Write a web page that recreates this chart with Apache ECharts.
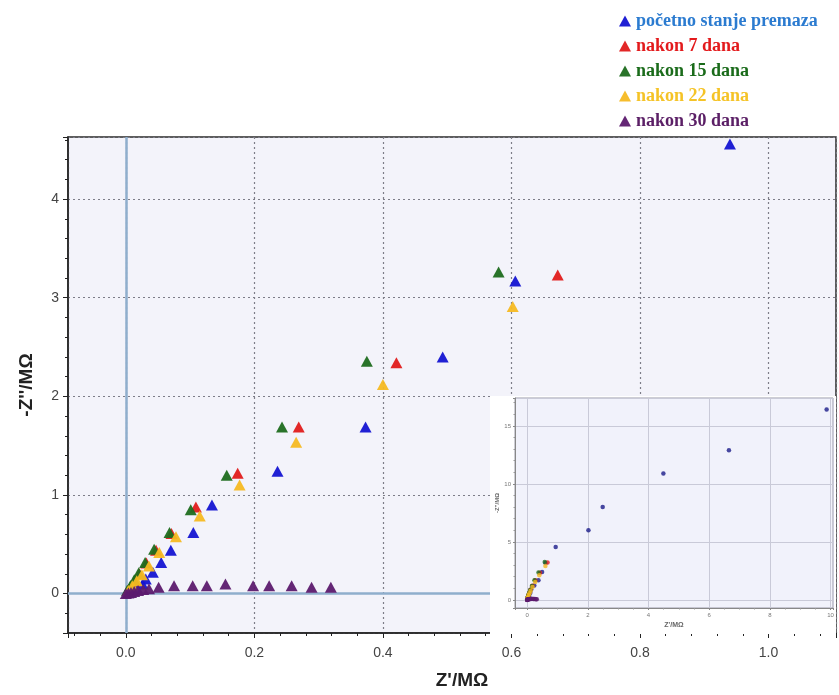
<!DOCTYPE html>
<html>
<head>
<meta charset="utf-8">
<script src="https://cdn.jsdelivr.net/npm/echarts@6/dist/echarts.min.js"></script>
<style>html,body{margin:0;padding:0;background:#fff;}#c{width:839px;height:695px;}</style>
</head>
<body>
<div id="c"></div>
<script>
// ---- data (Z' in MΩ, -Z'' in MΩ) ----
const seriesNames = ['početno stanje premaza', 'nakon 7 dana', 'nakon 15 dana', 'nakon 22 dana', 'nakon 30 dana'];

const blueX = [0.004, 0.010, 0.017, 0.026, 0.031, 0.042, 0.055, 0.070, 0.105, 0.134, 0.236, 0.373, 0.493, 0.606, 0.940, 2.02, 2.49, 4.49, 6.65, 9.87];
const blueY = [0.010, 0.030, 0.060, 0.097, 0.147, 0.215, 0.316, 0.440, 0.618, 0.897, 1.24, 1.69, 2.40, 3.17, 4.56, 6.0, 8.0, 10.9, 12.9, 16.4];

const redX = [0.003, 0.008, 0.014, 0.021, 0.032, 0.047, 0.071, 0.109, 0.174, 0.269, 0.421, 0.672];
const redY = [0.03, 0.08, 0.13, 0.20, 0.31, 0.44, 0.61, 0.877, 1.22, 1.69, 2.34, 3.23];

const greenX = [0.002, 0.007, 0.013, 0.020, 0.030, 0.044, 0.068, 0.101, 0.157, 0.243, 0.375, 0.580];
const greenY = [0.03, 0.08, 0.14, 0.21, 0.316, 0.45, 0.62, 0.85, 1.20, 1.69, 2.355, 3.26];

const yellowX = [0.004, 0.010, 0.017, 0.025, 0.036, 0.052, 0.078, 0.115, 0.177, 0.265, 0.400, 0.602];
const yellowY = [0.03, 0.08, 0.13, 0.19, 0.28, 0.416, 0.575, 0.786, 1.10, 1.535, 2.12, 2.91];

const purpleX = [0.000, 0.004, 0.008, 0.013, 0.019, 0.027, 0.036, 0.051, 0.075, 0.104, 0.126, 0.155, 0.198, 0.223, 0.258, 0.289, 0.319];
const purpleY = [0.000, 0.005, 0.010, 0.020, 0.030, 0.040, 0.050, 0.064, 0.080, 0.080, 0.080, 0.097, 0.080, 0.080, 0.080, 0.064, 0.064];

const xTickLabels = ['0.0', '0.2', '0.4', '0.6', '0.8', '1.0'];
const insetXTickLabels = ['0', '2', '4', '6', '8', '10'];
const insetYTickLabels = ['0', '5', '10', '15'];

// ---- styling ----
const markerColors = ['#1414d2', '#e01b1b', '#1d6b1d', '#f5b922', '#5c1a6e'];
const legendTextColors = ['#2b7bd0', '#e31a1c', '#1a6b1a', '#f5c326', '#5b1f66'];

const zip = (xs, ys) => xs.map((x, i) => [x, ys[i]]);
const allData = [zip(blueX, blueY), zip(redX, redY), zip(greenX, greenY), zip(yellowX, yellowY), zip(purpleX, purpleY)];

const chart = echarts.init(document.getElementById('c'), null, {renderer: 'canvas'});

const mainSeries = allData.map((d, i) => ({
  name: seriesNames[i],
  type: 'scatter',
  xAxisIndex: 0, yAxisIndex: 0,
  symbol: 'triangle',
  symbolSize: [12, 11],
  itemStyle: {color: markerColors[i], opacity: 0.95},
  data: d,
  z: 2,
  clip: true
}));
// zero lines
mainSeries[0].markLine = {
  silent: true,
  z: 1,
  symbol: ['none', 'none'],
  label: {show: false},
  lineStyle: {color: '#8faecc', type: 'solid', width: 2.5},
  data: [{xAxis: 0}, {yAxis: 0}]
};

const insetSeries = allData.map((d, i) => ({
  name: seriesNames[i] + ' ',
  type: 'scatter',
  xAxisIndex: 1, yAxisIndex: 1,
  symbol: 'circle',
  symbolSize: 4.5,
  itemStyle: {color: i === 0 ? '#1c1c8a' : markerColors[i]},
  data: d,
  z: 5,
  clip: true
}));

const fmt = (v, list) => { const s = String(Math.round(v * 1000) / 1000); return list.includes(s) ? s : ''; };

const option = {
  backgroundColor: '#ffffff',
  animation: false,
  textStyle: {fontFamily: 'Liberation Sans, Arial, sans-serif'},
  legend: {
    orient: 'vertical',
    left: 614,
    top: 7,
    itemWidth: 12,
    itemHeight: 11,
    itemGap: 7,
    icon: 'triangle',
    textStyle: {fontFamily: 'Liberation Serif, Times New Roman, serif', fontWeight: 'bold', fontSize: 18},
    data: seriesNames.map((n, i) => ({name: n, itemStyle: {color: markerColors[i]}, textStyle: {color: legendTextColors[i]}}))
  },
  graphic: [{
    type: 'rect',
    shape: {x: 490, y: 396, width: 346, height: 238},
    style: {fill: '#ffffff'},
    z: 2.5,
    silent: true
  }],
  grid: [
    {left: 68, top: 137, right: 3, bottom: 59, show: true, backgroundColor: '#f3f3fa', borderColor: '#2a2a2a', borderWidth: 1.5, z: 0},
    {left: 515, top: 398, width: 318, height: 210, show: true, backgroundColor: '#f1f2fb', borderColor: '#9a9aa8', borderWidth: 1, z: 3}
  ],
  xAxis: [
    {
      type: 'value', gridIndex: 0, min: -0.09, max: 1.105, splitNumber: 5,
      axisLine: {show: true, onZero: false, lineStyle: {color: '#222', width: 1.5}},
      axisTick: {show: true, inside: false, length: 5, lineStyle: {color: '#222'}},
      minorTick: {show: true, splitNumber: 5, length: 3, lineStyle: {color: '#222'}},
      axisLabel: {color: '#444', fontSize: 14, margin: 13, showMinLabel: false, showMaxLabel: false,
        formatter: v => { const s = v.toFixed(1); return xTickLabels.includes(s) ? s : ''; }},
      splitLine: {show: true, lineStyle: {color: '#7d7d88', type: [2, 3], width: 1.2}},
      name: "Z'/MΩ", nameLocation: 'middle', nameGap: 38,
      nameTextStyle: {fontSize: 19, fontWeight: 'bold', color: '#222', padding: [0, 0, 0, 20]}
    },
    {
      type: 'value', gridIndex: 1, min: -0.4, max: 10.08, splitNumber: 5, z: 3,
      axisLine: {show: true, onZero: false, lineStyle: {color: '#888', width: 1}},
      axisTick: {show: true, length: 2, lineStyle: {color: '#888'}},
      minorTick: {show: true, splitNumber: 4, length: 1.5, lineStyle: {color: '#999'}},
      axisLabel: {color: '#777', fontSize: 6, margin: 4, showMinLabel: false, showMaxLabel: false,
        formatter: v => fmt(v, insetXTickLabels)},
      splitLine: {show: true, lineStyle: {color: '#c9cad8', width: 1}},
      name: "Z'/MΩ", nameLocation: 'middle', nameGap: 14,
      nameTextStyle: {fontSize: 7, color: '#666', fontWeight: 'bold'}
    }
  ],
  yAxis: [
    {
      type: 'value', gridIndex: 0, min: -0.4, max: 4.63, splitNumber: 5,
      axisLine: {show: true, onZero: false, lineStyle: {color: '#222', width: 1.5}},
      axisTick: {show: true, inside: false, length: 5, lineStyle: {color: '#222'}},
      minorTick: {show: true, splitNumber: 5, length: 3, lineStyle: {color: '#222'}},
      axisLabel: {color: '#444', fontSize: 14, margin: 9, showMinLabel: false, showMaxLabel: false},
      splitLine: {show: true, lineStyle: {color: '#7d7d88', type: [2, 3], width: 1.2}},
      name: "-Z''/MΩ", nameLocation: 'middle', nameGap: 32, nameRotate: 90,
      nameTextStyle: {fontSize: 19, fontWeight: 'bold', color: '#222'}
    },
    {
      type: 'value', gridIndex: 1, min: -0.7, max: 17.4, splitNumber: 4, z: 3,
      axisLine: {show: true, onZero: false, lineStyle: {color: '#888', width: 1}},
      axisTick: {show: true, length: 2, lineStyle: {color: '#888'}},
      minorTick: {show: true, splitNumber: 5, length: 1.5, lineStyle: {color: '#999'}},
      axisLabel: {color: '#777', fontSize: 6, margin: 4, showMinLabel: false, showMaxLabel: false,
        formatter: v => fmt(v, insetYTickLabels)},
      splitLine: {show: true, lineStyle: {color: '#c9cad8', width: 1}},
      name: "-Z''/MΩ", nameLocation: 'middle', nameGap: 10, nameRotate: 90,
      nameTextStyle: {fontSize: 6, color: '#666', fontWeight: 'bold'}
    }
  ],
  series: mainSeries.concat(insetSeries)
};
chart.setOption(option);
</script>
</body>
</html>
